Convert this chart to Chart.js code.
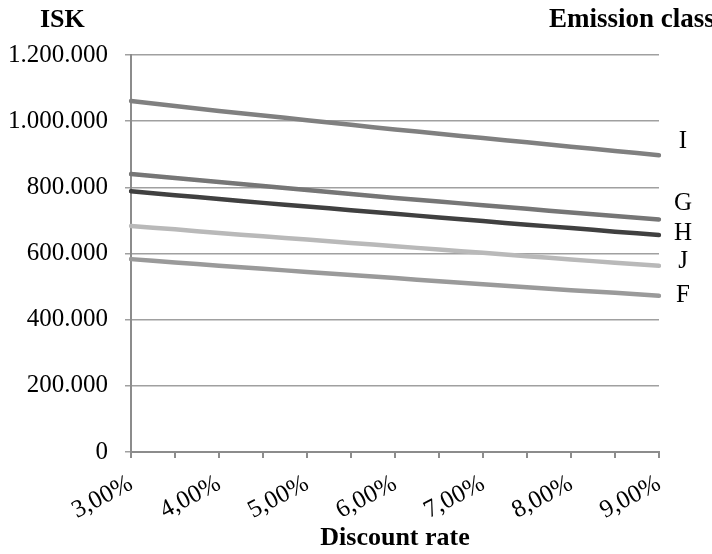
<!DOCTYPE html>
<html>
<head>
<meta charset="utf-8">
<script src="https://cdn.jsdelivr.net/npm/chart.js@4"></script>
<style>
  html, body { margin: 0; padding: 0; background: #fff; }
  #wrap { width: 712px; height: 554px; }
</style>
</head>
<body>
<div id="wrap"><canvas id="chart"></canvas></div>
<script>
"use strict";

// discount rates, every half percent (labels shown on whole percents only)
const rates = ['3,00%', '3,50%', '4,00%', '4,50%', '5,00%', '5,50%', '6,00%',
               '6,50%', '7,00%', '7,50%', '8,00%', '8,50%', '9,00%'];

const classNames = ['I', 'G', 'H', 'J', 'F'];

const valuesI = [1061000, 1046000, 1031000, 1017000, 1003000, 989000, 975000,
                 962000, 949000, 936000, 923000, 910000, 897000];
const valuesG = [840000, 828000, 816000, 804000, 792000, 780000, 768000,
                 757000, 746000, 735000, 724000, 713000, 703000];
const valuesH = [788000, 776000, 765000, 753000, 742000, 731000, 720000,
                 709000, 698000, 687000, 677000, 666000, 656000];
const valuesJ = [683000, 673000, 662000, 652000, 642000, 632000, 622000,
                 612000, 602000, 592000, 582000, 572000, 563000];
const valuesF = [583000, 573000, 563000, 554000, 544000, 535000, 526000,
                 516000, 507000, 498000, 489000, 481000, 472000];

const yTicks = [0, 200000, 400000, 600000, 800000, 1000000, 1200000];

const lineColors = ['#808080', '#767676', '#404040', '#b9b9b9', '#9a9a9a'];
const labelShift = [-7, -9, 5, 2, 6];  // baseline offset of end labels

const serif = '"Liberation Serif", "Times New Roman", serif';

function fmtIsk(v) {
    return String(v).replace(/\B(?=(\d{3})+(?!\d))/g, '.');
}

const endLabels = {
    id: 'endLabels',
    afterDatasetsDraw(chart) {
        const ctx = chart.ctx;
        ctx.save();
        ctx.fillStyle = '#000';
        ctx.font = '25px ' + serif;
        ctx.textAlign = 'center';
        ctx.textBaseline = 'alphabetic';
        chart.data.datasets.forEach((ds, i) => {
            const pts = chart.getDatasetMeta(i).data;
            const last = pts[pts.length - 1];
            ctx.fillText(ds.label, last.x + 24, last.y + labelShift[i]);
        });
        // axis headings
        ctx.textAlign = 'left';
        ctx.font = 'bold 26px ' + serif;
        ctx.fillText('ISK', 40, 27);
        ctx.font = 'bold 27px ' + serif;
        ctx.fillText('Emission class', 549, 27);
        ctx.restore();
    }
};

const allValues = [valuesI, valuesG, valuesH, valuesJ, valuesF];

new Chart(document.getElementById('chart').getContext('2d'), {
    type: 'line',
    data: {
        labels: rates,
        datasets: classNames.map((name, i) => ({
            label: name,
            data: allValues[i],
            borderColor: lineColors[i],
            borderWidth: 4.5,
            pointRadius: 0,
            fill: false,
            tension: 0.3,
            borderCapStyle: 'round'
        }))
    },
    options: {
        responsive: true,
        maintainAspectRatio: false,
        animation: false,
        layout: { padding: { top: 55, right: 53, left: 0, bottom: 0 } },
        plugins: {
            legend: { display: false },
            tooltip: { enabled: false }
        },
        scales: {
            x: {
                offset: false,
                afterFit: function (scale) { scale.height = 102; },
                grid: {
                    drawOnChartArea: false,
                    drawTicks: true,
                    tickLength: 6,
                    color: '#8c8c8c',
                    lineWidth: 2
                },
                border: { color: '#8c8c8c', width: 2 },
                ticks: {
                    autoSkip: false,
                    minRotation: 28,
                    maxRotation: 28,
                    padding: 11,
                    color: '#000',
                    font: { family: serif, size: 25 },
                    callback: function (value, index) {
                        return index % 2 === 0 ? rates[index] : '';
                    }
                },
                title: {
                    display: true,
                    text: 'Discount rate',
                    color: '#000',
                    font: { family: serif, size: 26, weight: 'bold' },
                    padding: { top: 0, bottom: 0 }
                }
            },
            y: {
                min: 0,
                max: 1200000,
                afterFit: function (scale) { scale.width = 131; },
                afterBuildTicks: function (scale) {
                    scale.ticks = yTicks.map(v => ({ value: v }));
                },
                grid: {
                    color: '#a0a0a0',
                    lineWidth: 1.5,
                    tickLength: 6
                },
                border: { color: '#8c8c8c', width: 2 },
                ticks: {
                    padding: 17,
                    color: '#000',
                    font: { family: serif, size: 25 },
                    callback: function (value) { return fmtIsk(value); }
                }
            }
        }
    },
    plugins: [endLabels]
});
</script>
</body>
</html>
